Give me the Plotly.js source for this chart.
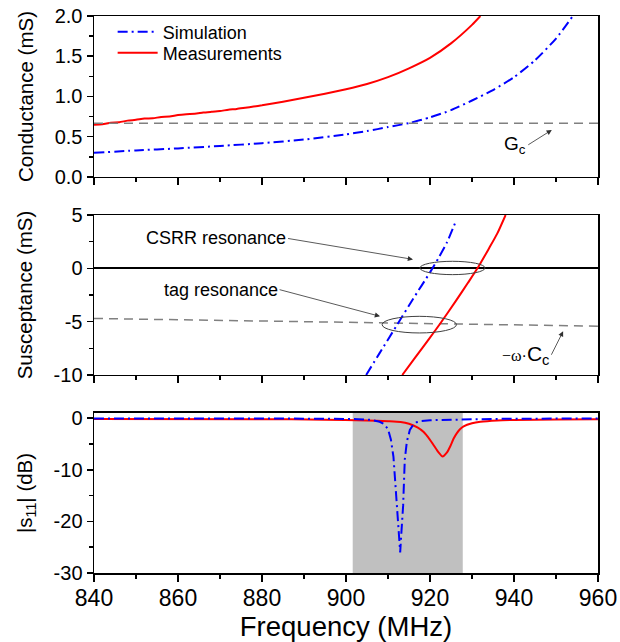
<!DOCTYPE html>
<html>
<head>
<meta charset="utf-8">
<script src="https://cdn.plot.ly/plotly-3.0.1.min.js"></script>
<style>html,body{margin:0;padding:0;background:#fff;}#chart{width:620px;height:642px;}</style>
</head>
<body>
<div id="chart"></div>
<script>
// ---------- Panel 1: Conductance (mS) ----------
var gMeasFreq = [840,842,844,846,848,850,852,854,856,858,860,862,864,866,868,870,872,874,876,878,880,885,890,895,900,905,910,915,920,925,930,932];
var gMeasVal  = [0.65,0.655,0.675,0.68,0.70,0.71,0.725,0.73,0.745,0.75,0.77,0.78,0.785,0.80,0.81,0.82,0.835,0.845,0.86,0.875,0.89,0.935,0.985,1.035,1.09,1.155,1.24,1.35,1.48,1.66,1.89,2.0];
var gSimFreq  = [840,850,860,870,880,890,900,905,910,915,920,925,930,935,940,945,950,954];
var gSimVal   = [0.30,0.33,0.355,0.385,0.42,0.465,0.53,0.57,0.62,0.67,0.74,0.83,0.95,1.08,1.24,1.45,1.72,2.0];
var gcFreq    = [840,960];
var gcVal     = [0.667,0.667];

// ---------- Panel 2: Susceptance (mS) ----------
var bSimFreq  = [904.8,908,912,916,920,922,924,926.3];
var bSimVal   = [-10,-7.95,-5.4,-2.85,-0.38,0.95,2.4,4.56];
var bMeasFreq = [913.4,916.5,920,922.4,926,929,931.3,934,936,938];
var bMeasVal  = [-10,-8.35,-6.5,-5.2,-3.15,-1.38,0,1.84,3.25,5.0];
var wcFreq    = [840,960];
var wcVal     = [-4.7,-5.42];

// ---------- Panel 3: |s11| (dB) ----------
var sSimFreq  = [840,880,895,903,906,908,909,910,910.7,911.3,911.7,912,912.5,912.9,913.2,913.6,914,914.5,915.2,916,916.8,918,920,925,935,960];
var sSimVal   = [-0.05,-0.05,-0.1,-0.2,-0.35,-0.7,-1.1,-2.1,-4.2,-7.5,-12,-17,-22.5,-26,-22,-17,-8,-4.5,-2.3,-1.3,-0.8,-0.55,-0.4,-0.3,-0.15,-0.05];
var sMeasFreq = [840,880,895,905,910,913,915,917,918.5,920,921,922,923,924,924.8,925.6,926.4,927.2,928,930,932,936,940,950,960];
var sMeasVal  = [-0.15,-0.2,-0.3,-0.45,-0.6,-0.75,-1.1,-1.8,-2.7,-4.2,-5.4,-6.6,-7.45,-6.7,-5.5,-4.0,-2.9,-2.1,-1.6,-1.0,-0.7,-0.45,-0.35,-0.25,-0.2];
var bandFreq  = [901.6,927.8];

// ---------- Tick labels ----------
var xTickVals  = [840,860,880,900,920,940,960];
var xTickText  = ['840','860','880','900','920','940','960'];
var y1TickVals = [0,0.5,1,1.5,2];
var y1TickText = ['0.0','0.5','1.0','1.5','2.0'];
var y2TickVals = [-10,-5,0,5];
var y2TickText = ['-10','-5','0','5'];
var y3TickVals = [-30,-20,-10,0];
var y3TickText = ['-30','-20','-10','0'];

var FONT = 'Liberation Sans, Arial, sans-serif';
var BLUE = '#0000ff', RED = '#ff0000', GRAY = '#808080';
var simDash = '10px,4px,2px,4px';
var grayDash = '9px,6px';

var traces = [
  {x:gSimFreq, y:gSimVal, xaxis:'x', yaxis:'y', mode:'lines', name:'Simulation', legend:'legend', line:{color:BLUE, width:2, dash:simDash, shape:'spline', smoothing:0.6}},
  {x:gMeasFreq, y:gMeasVal, xaxis:'x', yaxis:'y', mode:'lines', name:'Measurements', legend:'legend2', line:{color:RED, width:2, shape:'spline', smoothing:0.5}},
  {x:gcFreq, y:gcVal, xaxis:'x', yaxis:'y', mode:'lines', showlegend:false, line:{color:GRAY, width:1.5, dash:grayDash}},
  {x:wcFreq, y:wcVal, xaxis:'x2', yaxis:'y2', mode:'lines', showlegend:false, line:{color:GRAY, width:1.5, dash:grayDash}},
  {x:bSimFreq, y:bSimVal, xaxis:'x2', yaxis:'y2', mode:'lines', showlegend:false, line:{color:BLUE, width:2, dash:simDash, shape:'spline', smoothing:0.6}},
  {x:bMeasFreq, y:bMeasVal, xaxis:'x2', yaxis:'y2', mode:'lines', showlegend:false, line:{color:RED, width:2, shape:'spline', smoothing:0.6}},
  {x:sMeasFreq, y:sMeasVal, xaxis:'x3', yaxis:'y3', mode:'lines', showlegend:false, line:{color:RED, width:2, shape:'spline', smoothing:0.6}},
  {x:sSimFreq, y:sSimVal, xaxis:'x3', yaxis:'y3', mode:'lines', showlegend:false, line:{color:BLUE, width:2, dash:simDash}}
];

function xax(anchor, labels) {
  return {
    anchor: anchor, range:[840,960], domain:[0,1],
    tickvals: xTickVals, ticktext: xTickText, showticklabels: labels,
    ticks:'outside', ticklen:7, tickwidth:1.5, tickcolor:'#000',
    minor:{ticks:'outside', ticklen:4, tickwidth:1.5, dtick:10, tick0:840, tickcolor:'#000'},
    showline:true, linewidth:1.5, linecolor:'#000', mirror:true,
    showgrid:false, zeroline:false, ticklabelstandoff:-3,
    tickfont:{family:FONT, size:23, color:'#000'}
  };
}
function yax(range, dom, tv, tt, minorD, title) {
  return {
    range: range, domain: dom, tickvals: tv, ticktext: tt,
    ticks:'outside', ticklen:6, tickwidth:1.5, tickcolor:'#000',
    minor:{ticks:'outside', ticklen:3.5, tickwidth:1.5, dtick:minorD, tick0:0, tickcolor:'#000'},
    showline:true, linewidth:1.5, linecolor:'#000', mirror:true,
    showgrid:false, zeroline:false,
    tickfont:{family:FONT, size:20, color:'#000'},
    title:{text:title, standoff:15, font:{family:FONT, size:20.5, color:'#000'}}
  };
}

var legendBase = {x:0.037, xanchor:'left', yanchor:'middle', bgcolor:'rgba(0,0,0,0)', borderwidth:0,
                  font:{family:FONT, size:18, color:'#000'}, itemwidth:40};

var layout = {
  width:620, height:642,
  margin:{l:94, r:22, t:16, b:69},
  paper_bgcolor:'#fff', plot_bgcolor:'#fff',
  font:{family:FONT, color:'#000'},
  showlegend:true,
  legend: Object.assign({}, legendBase, {y:0.9713}),
  legend2: Object.assign({}, legendBase, {y:0.9336}),
  xaxis: xax('y', false),
  xaxis2: xax('y2', false),
  xaxis3: Object.assign(xax('y3', true), {title:{text:'Frequency (MHz)', font:{family:FONT, size:27.5, color:'#000'}, standoff:8}}),
  yaxis: yax([0,2], [0.711,1], y1TickVals, y1TickText, 0.25, 'Conductance (mS)'),
  yaxis2: Object.assign(yax([-10,5], [0.3555,0.6427], y2TickVals, y2TickText, 2.5, 'Susceptance (mS)'),
                        {zeroline:true, zerolinecolor:'#000', zerolinewidth:2}),
  yaxis3: yax([-30,1], [0,0.2873], y3TickVals, y3TickText, 5, '|s<sub>11</sub>| (dB)'),
  shapes:[
    {type:'rect', xref:'x3', yref:'y3', x0:bandFreq[0], x1:bandFreq[1], y0:-30, y1:1, fillcolor:'#c0c0c0', line:{width:0}, layer:'below'},
    {type:'circle', xref:'x2', yref:'y2', x0:917.6, x1:933.1, y0:-0.59, y1:0.66, line:{color:'#404040', width:1}},
    {type:'circle', xref:'x2', yref:'y2', x0:908.6, x1:926.3, y0:-6.06, y1:-4.5, line:{color:'#404040', width:1}}
  ],
  annotations:[
    {xref:'x2', yref:'y2', axref:'x2', ayref:'y2', x:915.95, y:0.84, ax:886.2, ay:2.8,
     xanchor:'right', yanchor:'middle', text:'CSRR resonance', showarrow:true, arrowhead:2, arrowsize:1.3, arrowwidth:0.8, arrowcolor:'#303030',
     font:{family:FONT, size:18, color:'#000'}},
    {xref:'x2', yref:'y2', axref:'x2', ayref:'y2', x:908.1, y:-4.5, ax:884.2, ay:-2.0,
     xanchor:'right', yanchor:'middle', text:'tag resonance', showarrow:true, arrowhead:2, arrowsize:1.3, arrowwidth:0.8, arrowcolor:'#303030',
     font:{family:FONT, size:18, color:'#000'}},
    {xref:'x2', yref:'y2', axref:'x2', ayref:'y2', x:951.7, y:-5.9, ax:948.9, ay:-8.1,
     xanchor:'right', yanchor:'middle',
     text:'<span style="font-size:16px;font-family:Liberation Serif">−ω</span><span style="font-size:16px">·</span>C<sub>c</sub>',
     showarrow:true, arrowhead:2, arrowsize:1.3, arrowwidth:0.8, arrowcolor:'#303030',
     font:{family:FONT, size:21, color:'#000'}},
    {xref:'x', yref:'y', axref:'x', ayref:'y', x:949.0, y:0.584, ax:943.4, ay:0.40,
     xanchor:'right', yanchor:'middle', text:'G<sub>c</sub>',
     showarrow:true, arrowhead:2, arrowsize:1.3, arrowwidth:0.8, arrowcolor:'#303030',
     font:{family:FONT, size:19, color:'#000'}}
  ]
};

Plotly.newPlot('chart', traces, layout, {displayModeBar:false, staticPlot:true});
</script>
</body>
</html>
